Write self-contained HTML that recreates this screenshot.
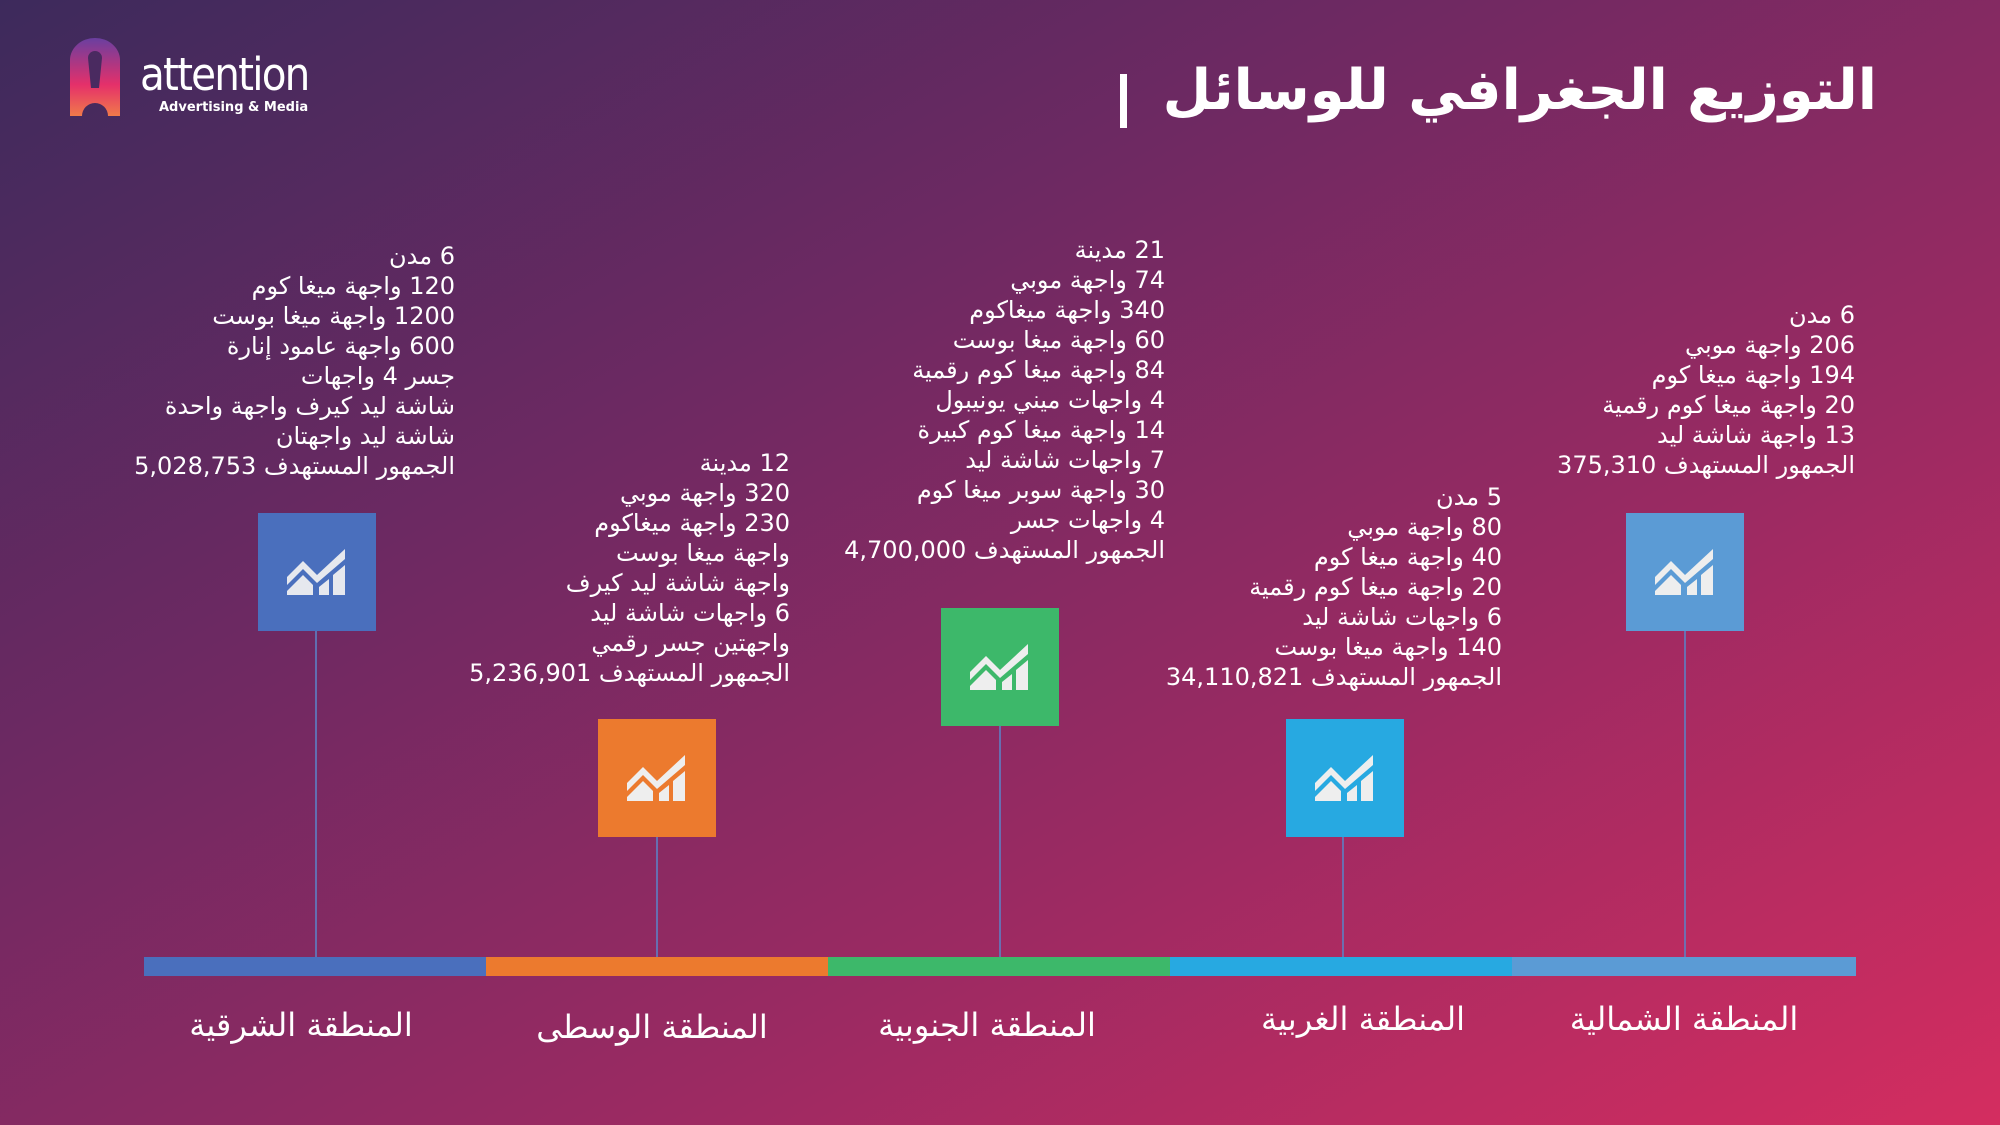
<!DOCTYPE html>
<html><head><meta charset="utf-8"><style>
*{margin:0;padding:0;box-sizing:border-box}
body{width:2000px;height:1125px;overflow:hidden;position:relative;font-family:"DejaVu Sans","Liberation Sans",sans-serif;color:#fff;
background:linear-gradient(to bottom right,#3d2a5c 0%,#6e2962 35%,#9a2a62 65%,#d42d60 100%);}
.t{position:absolute;direction:rtl;text-align:right;font-size:24px;line-height:30px;white-space:nowrap}
.box{position:absolute;width:118px;height:118px;display:flex;align-items:center;justify-content:center}
.ln{position:absolute;width:2px;background:#5d7fc4;opacity:.8}
.seg{position:absolute;top:957px;height:19px;width:343px}
.lab{position:absolute;top:1006px;font-size:32px;width:320px;text-align:center;direction:rtl}
</style></head><body>
<svg style="position:absolute;left:70px;top:38px" width="50" height="80" viewBox="0 0 50 80">
<defs><linearGradient id="g" x1="0" y1="0" x2="0" y2="1"><stop offset="0" stop-color="#6a3fa0"/><stop offset=".6" stop-color="#e5306a"/><stop offset="1" stop-color="#f07a4a"/></linearGradient></defs>
<path d="M0 22 A25 22 0 0 1 50 22 V78 H38 A13 13 0 0 0 12 78 H0Z" fill="url(#g)"/>
<path d="M18 20 A7 7 0 0 1 32 20 L29 50 H21Z" fill="#4a2a60"/>
</svg>
<div style="position:absolute;left:140px;top:50px;font-family:'DejaVu Sans',sans-serif;font-size:45px;line-height:50px;letter-spacing:-2px;transform:scaleX(.9);transform-origin:left">attention</div>
<div style="position:absolute;left:159px;top:100px;font-size:13px;font-weight:bold">Advertising &amp; Media</div>
<div style="position:absolute;right:123px;top:58px;font-size:56px;font-weight:bold;direction:rtl;white-space:nowrap">التوزيع الجغرافي للوسائل</div>
<div style="position:absolute;left:1120px;top:74px;width:7px;height:54px;background:#fff"></div>

<div class="t" style="right:1545px;top:241px">6 مدن<br>120 واجهة ميغا كوم<br>1200 واجهة ميغا بوست<br>600 واجهة عامود إنارة<br>جسر 4 واجهات<br>شاشة ليد كيرف واجهة واحدة<br>شاشة ليد واجهتان<br>الجمهور المستهدف 5,028,753</div>
<div class="t" style="right:1210px;top:448px">12 مدينة<br>320 واجهة موبي<br>230 واجهة ميغاكوم<br>واجهة ميغا بوست<br>واجهة شاشة ليد كيرف<br>6 واجهات شاشة ليد<br>واجهتين جسر رقمي<br>الجمهور المستهدف 5,236,901</div>
<div class="t" style="right:835px;top:235px">21 مدينة<br>74 واجهة موبي<br>340 واجهة ميغاكوم<br>60 واجهة ميغا بوست<br>84 واجهة ميغا كوم رقمية<br>4 واجهات ميني يونيبول<br>14 واجهة ميغا كوم كبيرة<br>7 واجهات شاشة ليد<br>30 واجهة سوبر ميغا كوم<br>4 واجهات جسر<br>الجمهور المستهدف 4,700,000</div>
<div class="t" style="right:498px;top:482px">5 مدن<br>80 واجهة موبي<br>40 واجهة ميغا كوم<br>20 واجهة ميغا كوم رقمية<br>6 واجهات شاشة ليد<br>140 واجهة ميغا بوست<br>الجمهور المستهدف 34,110,821</div>
<div class="t" style="right:145px;top:300px">6 مدن<br>206 واجهة موبي<br>194 واجهة ميغا كوم<br>20 واجهة ميغا كوم رقمية<br>13 واجهة شاشة ليد<br>الجمهور المستهدف 375,310</div>

<div class="ln" style="left:315px;top:630px;height:330px"></div>
<div class="ln" style="left:656px;top:837px;height:123px"></div>
<div class="ln" style="left:999px;top:726px;height:234px"></div>
<div class="ln" style="left:1342px;top:837px;height:123px"></div>
<div class="ln" style="left:1684px;top:630px;height:330px"></div>

<div class="box" style="left:258px;top:513px;background:#4a6fbd"><svg width="64" height="50" viewBox="0 0 64 50"><path d="M2 30 L18 14 L32 28 L60 2 V12 L32 36 L18 22 L2 38Z M2 44 L18 28 L28 38 V48 H2Z M34 48 V40 L44 32 V48Z M48 48 V28 L60 18 V48Z" fill="#e6e8ee"/></svg></div>
<div class="box" style="left:598px;top:719px;background:#ec7a2e"><svg width="64" height="50" viewBox="0 0 64 50"><path d="M2 30 L18 14 L32 28 L60 2 V12 L32 36 L18 22 L2 38Z M2 44 L18 28 L28 38 V48 H2Z M34 48 V40 L44 32 V48Z M48 48 V28 L60 18 V48Z" fill="#eee"/></svg></div>
<div class="box" style="left:941px;top:608px;background:#3db86a"><svg width="64" height="50" viewBox="0 0 64 50"><path d="M2 30 L18 14 L32 28 L60 2 V12 L32 36 L18 22 L2 38Z M2 44 L18 28 L28 38 V48 H2Z M34 48 V40 L44 32 V48Z M48 48 V28 L60 18 V48Z" fill="#eee"/></svg></div>
<div class="box" style="left:1286px;top:719px;background:#27a9e1"><svg width="64" height="50" viewBox="0 0 64 50"><path d="M2 30 L18 14 L32 28 L60 2 V12 L32 36 L18 22 L2 38Z M2 44 L18 28 L28 38 V48 H2Z M34 48 V40 L44 32 V48Z M48 48 V28 L60 18 V48Z" fill="#eee"/></svg></div>
<div class="box" style="left:1626px;top:513px;background:#5b9bd5"><svg width="64" height="50" viewBox="0 0 64 50"><path d="M2 30 L18 14 L32 28 L60 2 V12 L32 36 L18 22 L2 38Z M2 44 L18 28 L28 38 V48 H2Z M34 48 V40 L44 32 V48Z M48 48 V28 L60 18 V48Z" fill="#eee"/></svg></div>

<div class="seg" style="left:144px;background:#4a6fbd"></div>
<div class="seg" style="left:486px;background:#ec7a2e"></div>
<div class="seg" style="left:828px;background:#3db86a"></div>
<div class="seg" style="left:1170px;background:#27a9e1"></div>
<div class="seg" style="left:1512px;width:344px;background:#5b9bd5"></div>

<div class="lab" style="left:141px">المنطقة الشرقية</div>
<div class="lab" style="left:492px;top:1008px">المنطقة الوسطى</div>
<div class="lab" style="left:827px">المنطقة الجنوبية</div>
<div class="lab" style="left:1203px;top:1000px">المنطقة الغربية</div>
<div class="lab" style="left:1524px;top:1000px">المنطقة الشمالية</div>
</body></html>
